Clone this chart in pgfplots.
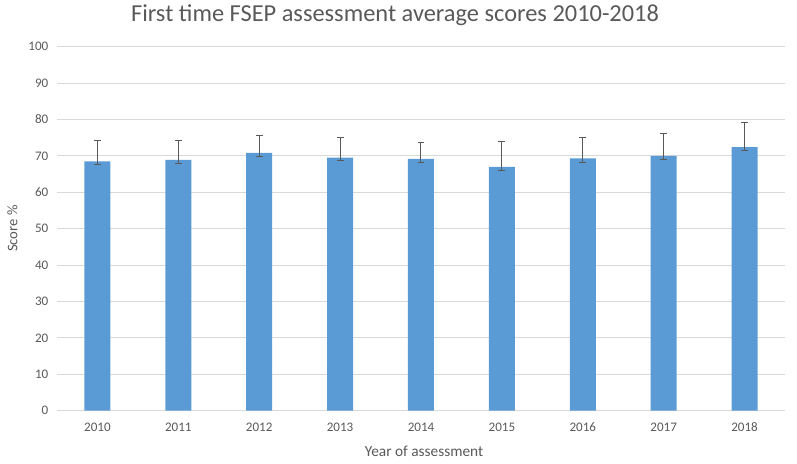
\documentclass[border=0pt]{standalone}
\usepackage{pgfplots}
\pgfplotsset{compat=1.18}
\usepackage{fontspec}
\setmainfont{Carlito}
\definecolor{barblue}{HTML}{5B9BD5}
\definecolor{txtgray}{HTML}{595959}
\definecolor{gridgray}{HTML}{D9D9D9}
\begin{document}
\begin{tikzpicture}
\useasboundingbox (-42.75pt,-39.75pt) rectangle (555pt,308pt);
\begin{axis}[
  scale only axis, width=546pt, height=273pt,
  xmin=-0.5, xmax=8.5, ymin=0, ymax=100,
  ytick={0,10,...,100},
  xtick={0,...,8},
  xticklabels={2010,2011,2012,2013,2014,2015,2016,2017,2018},
  axis line style={draw=none},
  major tick length=0pt,
  ymajorgrids, grid style={gridgray, line width=0.75pt},
  tick label style={font=\fontsize{9.8pt}{11pt}\selectfont, text=txtgray},
  /pgf/number format/assume math mode=true,
  xticklabel style={anchor=base, yshift=-16pt},
  yticklabel style={xshift=-3pt},
  clip=false,
]
\addplot[ybar, bar width=19.5pt, fill=barblue, draw=none,
  error bars/.cd, y dir=both, y explicit,
  error bar style={draw=txtgray, line width=0.75pt},
  error mark options={draw=txtgray, mark size=2.6pt, line width=0.75pt, rotate=90}]
coordinates {
(0,68.5) += (0,5.6) -= (0,1.0)
(1,68.9) += (0,5.4) -= (0,1.0)
(2,70.8) += (0,4.7) -= (0,1.0)
(3,69.5) += (0,5.6) -= (0,0.9)
(4,69.2) += (0,4.4) -= (0,1.0)
(5,67.0) += (0,6.9) -= (0,1.0)
(6,69.3) += (0,5.8) -= (0,1.0)
(7,70.0) += (0,6.2) -= (0,0.9)
(8,72.4) += (0,6.9) -= (0,1.0)
};
\end{axis}
\node[text=txtgray, font=\fontsize{18.3pt}{20pt}\selectfont] at (253.5pt,296.5pt) {First time FSEP assessment average scores 2010-2018};
\node[text=txtgray, font=\fontsize{11.5pt}{13pt}\selectfont] at (275.3pt,-30.5pt) {Year of assessment};
\node[text=txtgray, font=\fontsize{11pt}{13pt}\selectfont, rotate=90] at (-33.5pt,136.5pt) {Score \%};
\end{tikzpicture}
\end{document}
